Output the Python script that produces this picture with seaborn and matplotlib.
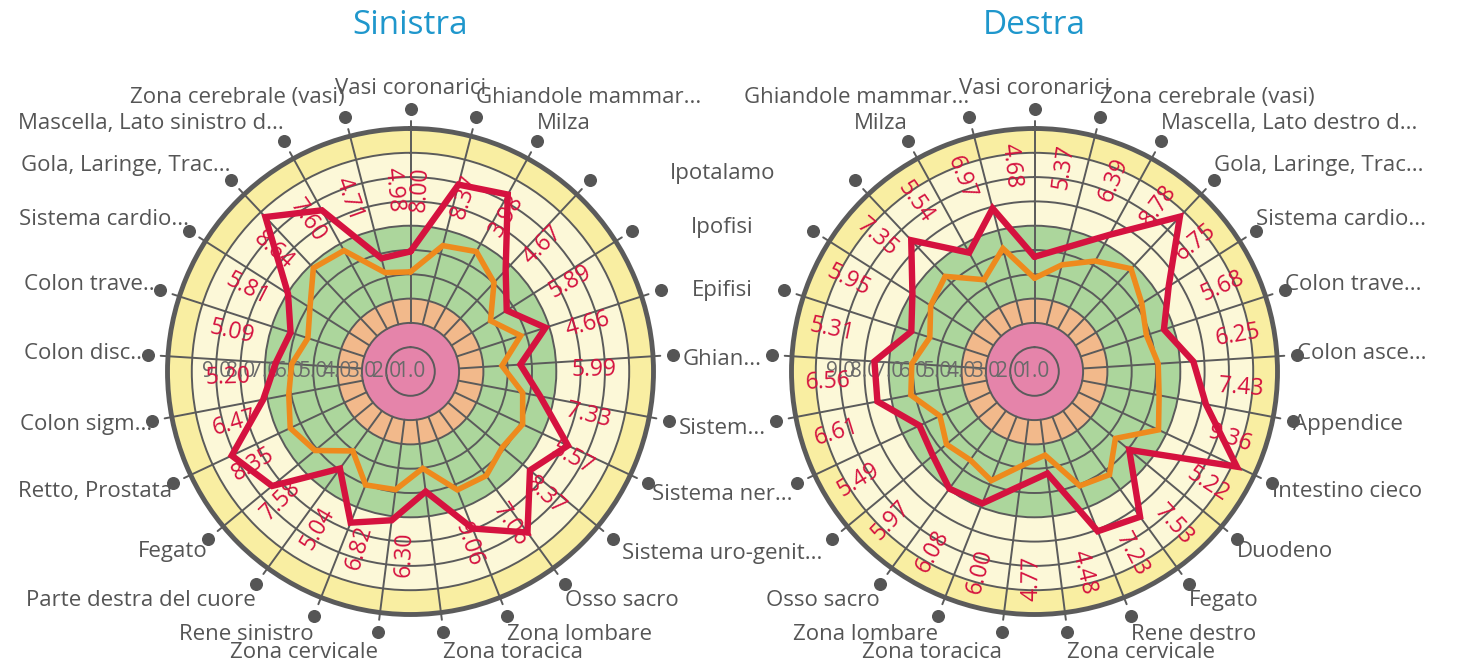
import numpy as np
import matplotlib.pyplot as plt
import seaborn as sns

# categorie (in senso orario a partire dall'alto)
left_labels = ["Vasi coronarici", "Ghiandole mammar...", "Milza", "Ipotalamo", "Ipofisi",
               "Epifisi", "Ghian...", "Sistem...", "Sistema ner...", "Sistema uro-genit...",
               "Osso sacro", "Zona lombare", "Zona toracica", "Zona cervicale", "Rene sinistro",
               "Parte destra del cuore", "Fegato", "Retto, Prostata", "Colon sigm...",
               "Colon disc...", "Colon trave...", "Sistema cardio...", "Gola, Laringe, Trac...",
               "Mascella, Lato sinistro d...", "Zona cerebrale (vasi)"]
left_red = [5.94, 8.94, 9.31, 6.72, 5.69, 6.84, 5.53, 6.43, 8.16, 7.38, 9.19, 7.95, 5.98,
            7.17, 7.69, 5.94, 8.39, 9.13, 7.17, 6.56, 6.19, 6.97, 9.72, 8.57, 5.81]
left_orange = [5.10, 6.35, 6.63, 6.02, 4.90, 5.77, 4.77, 5.70, 6.10, 5.90, 6.30, 6.24, 5.02,
               5.90, 6.02, 5.04, 6.10, 6.47, 6.10, 5.90, 5.44, 5.90, 6.84, 6.68, 5.20]
left_values = ["8.00", "8.37", "3.98", "4.67", "5.89", "4.66", "5.99", "7.33", "5.57", "8.37",
               "7.06", "9.06", "6.30", "6.82", "5.04", "7.58", "8.35", "6.47", "5.20", "5.09",
               "5.81", "8.64", "7.60", "4.71", "4.98"]

right_labels = ["Vasi coronarici", "Zona cerebrale (vasi)", "Mascella, Lato destro d...",
                "Gola, Laringe, Trac...", "Sistema cardio...", "Colon trave...", "Colon asce...",
                "Appendice", "Intestino cieco", "Duodeno", "Fegato", "Rene destro",
                "Zona cervicale", "Zona toracica", "Zona lombare", "Osso sacro",
                "Sistema uro-genit...", "Sistema ner...", "Sistem...", "Ghian...", "Epifisi",
                "Ipofisi", "Ipotalamo", "Milza", "Ghiandole mammar..."]
right_red = [5.72, 6.27, 7.42, 9.74, 7.54, 6.60, 7.55, 8.18, 10.20, 6.06, 8.39, 8.07, 5.23,
             5.75, 6.84, 6.96, 6.43, 6.23, 7.58, 7.60, 6.33, 6.95, 8.41, 6.58, 7.93]
right_orange = [4.84, 5.53, 6.19, 6.80, 6.23, 5.84, 6.10, 6.22, 6.64, 5.32, 6.25, 6.06, 4.47,
                4.89, 5.83, 5.50, 5.70, 5.30, 6.18, 6.06, 5.53, 6.06, 6.37, 5.31, 6.23]
right_values = ["5.37", "6.39", "8.78", "6.75", "5.68", "6.25", "7.43", "9.36", "5.22", "7.53",
                "7.23", "4.48", "4.77", "6.00", "6.08", "5.97", "5.49", "6.61", "6.56", "5.31",
                "5.95", "7.35", "5.54", "6.97", "4.68"]

scale_ticks = [1, 2, 3, 4, 5, 6, 7, 8, 9]
band_edges = [1, 3, 4, 7, 10, 11]
band_colors = ["#e584aa", "#f2b98b", "#acd69c", "#fcf8d8", "#f9eea2"]

GRID = "#5b5b5b"
RED = "#d5123f"
ORANGE = "#ee8a1d"
TXT = "#555555"

sns.set_theme(style="white")
plt.rcParams['font.family'] = ['Open Sans', 'DejaVu Sans']

W, H = 1461, 666
fig = plt.figure(figsize=(W / 100, H / 100), dpi=100)
R_PX = 243
R_DOT = 11.82


def radar(cx, cy, labels, red, orange, values, val_r, val_off):
    ax = fig.add_axes([(cx - R_PX) / W, (H - cy - R_PX) / H, 2 * R_PX / W, 2 * R_PX / H],
                      projection='polar')
    n = len(labels)
    theta = np.deg2rad(np.arange(n) * 360.0 / n)
    ax.set_theta_zero_location('N')
    ax.set_theta_direction(-1)

    for lo, hi, c in zip(band_edges[:-1], band_edges[1:], band_colors):
        ax.bar(0, hi - lo, width=2 * np.pi, bottom=lo, color=c, edgecolor='none', zorder=1)

    for t in theta:
        ax.plot([t, t], [3, 11.3], color=GRID, lw=1.4, zorder=3, clip_on=False)
    ax.scatter(theta, np.full(n, R_DOT), s=70, color=TXT, zorder=4, clip_on=False)

    tc = np.append(theta, theta[0])
    sns.lineplot(x=tc, y=np.append(orange, orange[0]), ax=ax, sort=False, estimator=None,
                 color=ORANGE, lw=4, zorder=5, solid_joinstyle='miter')
    sns.lineplot(x=tc, y=np.append(red, red[0]), ax=ax, sort=False, estimator=None,
                 color=RED, lw=4.6, zorder=6, solid_joinstyle='miter')

    for v in scale_ticks:
        ax.text(np.deg2rad(270), v, f"{v:.1f}", ha='center', va='center', fontsize=15,
                color="#6a6a6a", zorder=4)

    for k, txt in enumerate(values):
        deg = k * 360.0 / n + val_off(k * 360.0 / n)
        rot = 90 - deg if deg < 180 else 270 - deg
        ax.text(np.deg2rad(deg), val_r, txt, rotation=rot, rotation_mode='anchor',
                ha='center', va='center', fontsize=16.5, color=RED, zorder=7)

    ax.set_ylim(1, 11)
    ax.set_yticks(range(2, 11))
    ax.set_yticklabels([])
    ax.set_xticks([])
    ax.yaxis.grid(True, color=GRID, lw=1.4)
    ax.set_axisbelow(False)
    ax.spines['polar'].set_color(GRID)
    ax.spines['polar'].set_linewidth(3.5)
    ax.set_xlabel("")
    ax.set_ylabel("")
    return ax, theta


axL, thL = radar(410.5, 371.5, left_labels, left_red, left_orange, left_values,
                 1 + 183 / 24.3, lambda d: 3 if d < 165 else 9)
axR, thR = radar(1034.5, 371.5, right_labels, right_red, right_orange, right_values,
                 1 + 207 / 24.3, lambda d: 8)

# etichette esterne
mid_left = range(3, 10)
mid_right = range(16, 23)
for ax, th, labels, skip in [(axL, thL, left_labels, mid_left), (axR, thR, right_labels, mid_right)]:
    for k, (t, name) in enumerate(zip(th, labels)):
        if k in skip:
            continue
        s, c = np.sin(t), np.cos(t)
        ha = 'left' if s > 0.05 else ('right' if s < -0.05 else 'center')
        ax.annotate(name, xy=(t, R_DOT), xytext=(0, 14.4 * c), textcoords='offset points',
                    ha=ha, va='center', fontsize=16, color=TXT, annotation_clip=False)

# etichette centrali condivise
fig.canvas.draw()
for k in mid_left:
    t = thL[k]
    pl = axL.transData.transform((t, R_DOT))
    pr = axR.transData.transform((thR[25 - k], R_DOT))
    x = (pl[0] + pr[0]) / 2
    y = pl[1] - (5 - 15 * np.cos(t))
    fx, fy = fig.transFigure.inverted().transform((x, y))
    fig.text(fx, fy, left_labels[k], ha='center', va='center', fontsize=16, color=TXT)

fig.text(410.5 / W, 1 - 25 / H, "Sinistra", ha='center', va='center', fontsize=24, color="#1f97cc")
fig.text(1034.5 / W, 1 - 25 / H, "Destra", ha='center', va='center', fontsize=24, color="#1f97cc")

fig.savefig("out.png", dpi=100)
